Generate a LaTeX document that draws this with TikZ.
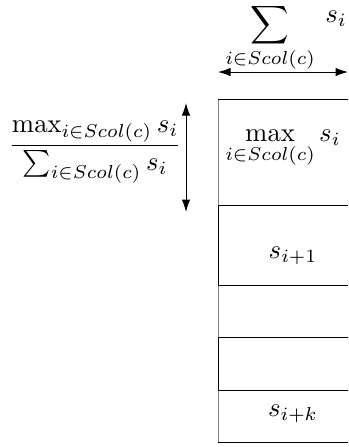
\documentclass[tikz,border=0pt]{standalone}
\usepackage{amsmath}
\usetikzlibrary{arrows.meta}
\begin{document}
\begin{tikzpicture}[x=0.4pt, y=-0.4pt,
    every node/.style={scale=1.07, inner sep=1pt},
    dim/.style={{Latex[length=5pt,width=3.4pt]}-{Latex[length=5pt,width=3.4pt]}, thin}]
  \def\xl{218}\def\xr{348}
  \useasboundingbox (0,0) rectangle (348,447);
  % column of cells
  \foreach \ya/\yb/\c in {99/205/gray, 205/285/black, 285/337/gray, 337/390/black, 390/442/gray}
    \draw[\c] (\xl,\ya) -- (\xl,\yb);
  \foreach \y in {99,205,285,337,390,442}
    \draw (\xl,\y) -- (\xr,\y);
  % width of the column
  \node (wsum) at (270,38) {$\displaystyle\sum_{i\in Scol(c)}$};
  \node (wsi) at (336,19) {$s_i$};
  \coordinate (wl) at (\xl,72);
  \coordinate (wr) at (\xr,72);
  \draw[dim] (wl) -- (wr);
  % height of the first cell
  \node (ratio) at (95,152) {$\dfrac{\max_{i\in Scol(c)} s_i}{\sum_{i\in Scol(c)} s_i}$};
  \coordinate (ht) at (186,103);
  \coordinate (hb) at (186,212);
  \draw[dim] (ht) -- (hb);
  % cell labels
  \node (smax) at (283,149) {$\displaystyle\max_{i\in Scol(c)} s_i$};
  \node (snext) at (293,256) {$s_{i+1}$};
  \node (slast) at (293,414) {$s_{i+k}$};
\end{tikzpicture}
\end{document}
